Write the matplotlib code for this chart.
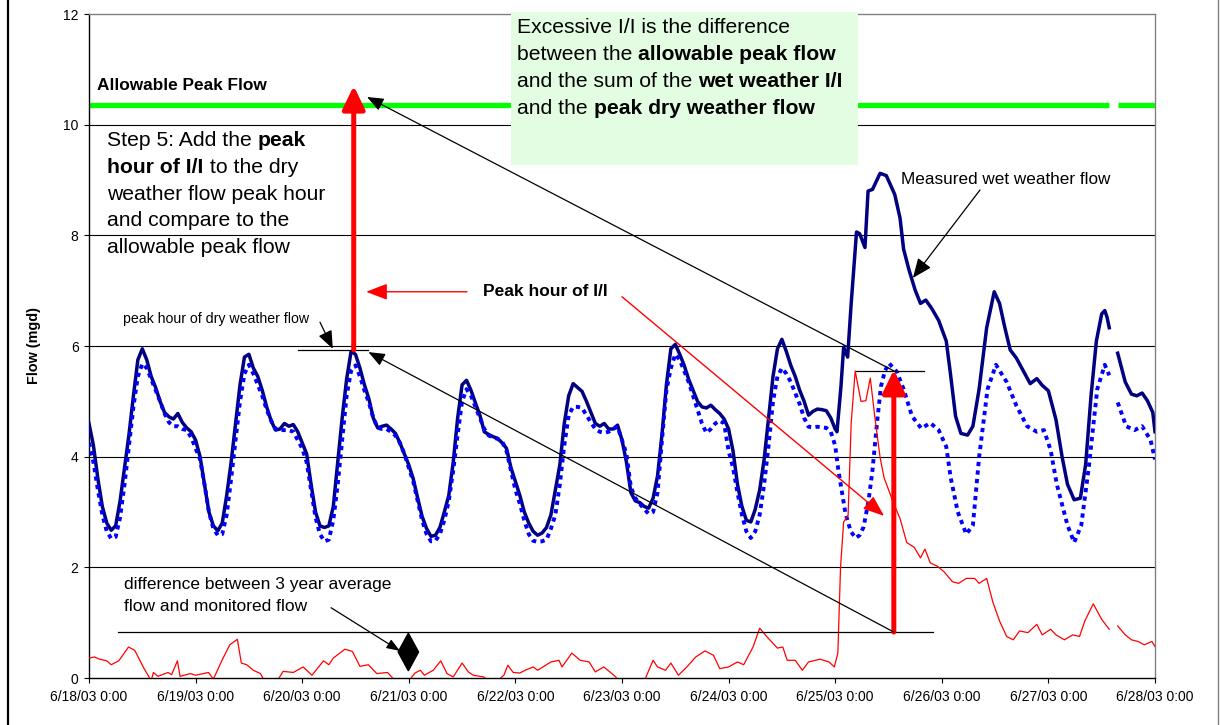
import matplotlib
matplotlib.use('Agg')
import matplotlib.pyplot as plt
import numpy as np
from matplotlib.transforms import offset_copy
from matplotlib.patches import Rectangle, Polygon
from matplotlib.lines import Line2D

plt.rcParams['font.family'] = ['Liberation Sans', 'DejaVu Sans']

# hours since 6/18/03 0:00
tick_labels = ['6/18/03 0:00', '6/19/03 0:00', '6/20/03 0:00', '6/21/03 0:00',
               '6/22/03 0:00', '6/23/03 0:00', '6/24/03 0:00', '6/25/03 0:00',
               '6/26/03 0:00', '6/27/03 0:00', '6/28/03 0:00']

ALLOWABLE_PEAK = 10.35

# measured wet weather flow (mgd), hourly for 6/18-6/24, then read points
wet_hours = list(range(168)) + [
    168, 168.4, 169.3, 169.9, 170.8, 171.6, 172.8, 173.5, 174.7, 175.4, 176.4,
    178.1, 179.5, 181.4, 182.6, 183.4, 184.6, 186, 187.2, 188.4, 189.8, 191.3,
    193, 193.9, 195.1, 196.3, 197.8, 199, 200.4, 202.1, 203.8, 205, 206.2,
    207.4, 208.8, 210.5, 211.9, 213.4, 214.6, 216, 217.7, 219.1, 220.3, 221.8,
    223.2, 224.4, 225.6, 226.8, 228, 228.7, 229.2, 229.7, 230.6, 231.6, 233.3,
    234.7, 235.9, 237.1, 238.3, 239.5, 240]
wet_flow = [
    4.6, 4.2, 3.6, 3.1, 2.8, 2.67, 2.75, 3.2, 3.8, 4.4, 5.1, 5.75, 5.95, 5.75, 5.45, 5.25, 5.0, 4.8, 4.72, 4.68, 4.78, 4.62, 4.52, 4.45,
    4.3, 4.0, 3.5, 3.0, 2.75, 2.66, 2.8, 3.3, 3.9, 4.6, 5.3, 5.8, 5.85, 5.6, 5.45, 5.2, 4.9, 4.65, 4.48, 4.5, 4.6, 4.55, 4.58, 4.45,
    4.25, 4.05, 3.5, 3.0, 2.75, 2.72, 2.75, 3.1, 3.9, 4.7, 5.4, 5.9, 5.85, 5.6, 5.3, 5.05, 4.7, 4.52, 4.55, 4.57, 4.5, 4.42, 4.25, 4.05,
    3.85, 3.6, 3.25, 2.92, 2.7, 2.56, 2.58, 2.72, 3.0, 3.3, 3.9, 4.7, 5.3, 5.38, 5.2, 4.97, 4.75, 4.45, 4.4, 4.36, 4.33, 4.25, 4.15, 3.8,
    3.55, 3.3, 3.0, 2.8, 2.65, 2.58, 2.62, 2.72, 2.95, 3.4, 3.85, 4.6, 5.1, 5.32, 5.25, 5.18, 5.0, 4.8, 4.6, 4.55, 4.6, 4.5, 4.5, 4.57,
    4.3, 3.9, 3.35, 3.2, 3.17, 3.1, 3.07, 3.25, 3.65, 4.4, 5.3, 5.95, 6.03, 5.85, 5.65, 5.4, 5.2, 5.0, 4.9, 4.88, 4.93, 4.85, 4.78, 4.68,
    4.5, 4.1, 3.5, 3.1, 2.85, 2.82, 3.05, 3.4, 3.95, 4.7, 5.45, 5.95, 6.12, 5.9, 5.65, 5.45, 5.2, 5.0, 4.75, 4.82, 4.86, 4.85, 4.83, 4.7,
    4.5, 4.45, 5.27, 5.98, 5.8, 6.77, 8.06, 8.03, 7.78, 8.8, 8.83,
    9.12, 9.08, 8.74, 8.31, 7.75, 7.38, 7.01, 6.77, 6.83, 6.67, 6.46,
    6.09, 5.53, 4.73, 4.42, 4.39, 4.55, 5.22, 6.33, 6.98, 6.77, 6.33,
    5.93, 5.78, 5.53, 5.32, 5.41, 5.29, 5.19, 4.67, 3.99, 3.5, 3.22,
    3.25, 3.87, 5.1, 6.09, 6.58, 6.64, 6.52, 6.33, np.nan, 5.87, 5.35,
    5.13, 5.1, 5.15, 5.01, 4.8, 4.45]

# 3 year average dry weather flow (mgd)
dry_hours = list(range(168)) + [
    168, 168.7, 170.3, 171.5, 172.6, 173.5, 174.4, 175.5, 176.4, 177.4, 178.3,
    179.2, 180.1, 181.9, 183.4, 185.3, 187.4, 189.4, 191.3, 193, 194, 195.6,
    197.5, 199, 200.4, 202.3, 204.2, 206.6, 208.8, 211.2, 213.4, 215, 216.5,
    217.9, 220.3, 221.8, 223.4, 225.1, 227, 228.7, 229.7, 230.6, 231.6, 233.5,
    235.4, 237.1, 239, 240]
dry_flow = [
    4.25, 3.9, 3.4, 2.95, 2.65, 2.52, 2.55, 2.9, 3.5, 4.2, 4.9, 5.45, 5.68, 5.6, 5.4, 5.2, 5.0, 4.78, 4.62, 4.55, 4.55, 4.5, 4.48, 4.35,
    4.15, 3.95, 3.5, 3.0, 2.7, 2.58, 2.6, 2.95, 3.6, 4.3, 5.0, 5.5, 5.66, 5.5, 5.3, 5.1, 4.85, 4.65, 4.5, 4.48, 4.48, 4.48, 4.45, 4.3,
    4.15, 3.9, 3.4, 2.9, 2.6, 2.47, 2.5, 2.85, 3.5, 4.3, 5.1, 5.55, 5.65, 5.45, 5.2, 4.98, 4.7, 4.52, 4.5, 4.5, 4.45, 4.38, 4.25, 4.05,
    3.8, 3.55, 3.2, 2.85, 2.6, 2.47, 2.48, 2.6, 2.85, 3.2, 3.75, 4.4, 5.0, 5.22, 5.1, 4.9, 4.7, 4.5, 4.38, 4.35, 4.32, 4.28, 4.1, 3.75,
    3.4, 3.15, 2.85, 2.6, 2.48, 2.46, 2.47, 2.5, 2.7, 2.95, 3.5, 4.2, 4.75, 4.9, 4.9, 4.88, 4.75, 4.62, 4.5, 4.45, 4.43, 4.45, 4.5, 4.54,
    4.3, 4.05, 3.45, 3.25, 3.15, 3.05, 2.97, 3.0, 3.35, 4.3, 5.2, 5.6, 5.85, 5.75, 5.55, 5.35, 5.1, 4.85, 4.6, 4.43, 4.5, 4.6, 4.65, 4.6,
    4.1, 3.8, 3.35, 2.95, 2.65, 2.53, 2.65, 2.95, 3.5, 4.2, 5.0, 5.45, 5.6, 5.5, 5.35, 5.15, 4.95, 4.7, 4.54, 4.53, 4.54, 4.53, 4.52, 4.45,
    4.2, 3.76, 2.98, 2.65, 2.53, 2.58, 2.73, 3.2, 3.76, 4.6, 5.27,
    5.55, 5.69, 5.53, 5.22, 4.73, 4.51, 4.61, 4.48, 4.18, 3.62, 3.0,
    2.6, 2.76, 3.99, 5.22, 5.66, 5.35, 4.92, 4.55, 4.45, 4.48, 4.12,
    3.5, 2.76, 2.45, 2.76, 3.81, 5.22, 5.66, 5.47, np.nan, 4.98, 4.55,
    4.48, 4.55, 4.3, 3.95]

# difference between 3 year average and monitored flow (mgd)
diff_hours = [
    0, 1.2, 2.4, 4, 5, 6.7, 8.9, 10.3, 12.2, 14, 14.5, 15.5, 17.8, 18.6, 19.9,
    20.5, 22.8, 24, 26.9, 28, 30, 31.7, 33.4, 34.3, 35.5, 37, 38.6, 39.5, 42,
    43.7, 46, 48.2, 50.2, 52.8, 54, 55, 57.6, 59.3, 61, 62.9, 64.8, 67.2, 68.6,
    70, 72, 73.4, 74.6, 75.5, 77.5, 79.2, 80.6, 82, 84, 85.4, 86.5, 88.8, 90,
    92, 93.4, 94.3, 95.5, 97, 98.2, 100, 101, 104, 105.8, 106.5, 108.7, 110.6,
    112.6, 114, 115.9, 116.8, 118.6, 119.5, 124, 125.3, 127, 128, 129.8, 131,
    132.7, 134.6, 136.6, 138.7, 140.6, 142, 144, 146, 147.4, 149.5, 151, 152.9,
    155, 156.2, 157.2, 159, 160.6, 162, 164.6, 166.6, 167.8, 168.6, 169.2,
    169.9, 170.9, 171.6, 172.5, 173.8, 174.9, 175.9, 176.9, 178.1, 179, 181,
    182.6, 184.1, 185.8, 187.2, 188.2, 189.4, 191, 192.5, 194.4, 195.8, 197.5,
    199.4, 200.4, 202.1, 203.5, 205, 206.6, 208.1, 209.5, 211.4, 213.4, 214.6,
    216.5, 217.7, 219.6, 221.5, 223, 224.2, 226.1, 228, 229.7, 230.6, 231.6,
    233.3, 234.7, 236.2, 237.6, 239.3, 240]
diff_flow = [
    0.36, 0.38, 0.34, 0.31, 0.24, 0.31, 0.56, 0.5, 0.2, -0.05, 0.1, 0.03, 0.1, 0.06, 0.31,
    0.03, 0.08, 0.05, 0.1, -0.02, 0.33, 0.6, 0.7, 0.27, 0.24, 0.14, 0.08, -0.05, -0.1,
    0.12, 0.1, 0.2, 0.05, 0.31, 0.24, 0.36, 0.52, 0.48, 0.21, 0.24, 0.08, 0.1, -0.02,
    -0.1, -0.05, 0.09, 0.14, 0.05, 0.14, 0.31, 0.08, 0.02, 0.27, 0.11, 0.05, 0.02, -0.05,
    -0.05, 0.05, 0.23, 0.1, 0.09, 0.14, 0.2, 0.14, 0.29, 0.32, 0.2, 0.45, 0.32,
    0.29, 0.11, 0.2, 0.14, 0.02, -0.1, -0.1, 0.0, 0.32, 0.2, 0.14, 0.27,
    0.05, 0.2, 0.38, 0.49, 0.41, 0.17, 0.2, 0.29, 0.24, 0.56, 0.9, 0.72,
    0.54, 0.56, 0.32, 0.32, 0.14, 0.29, 0.34, 0.29, 0.2, 0.45, 2.0,
    2.82, 2.94, 4.61, 5.55, 5.0, 5.01, 5.42, 4.73, 3.99, 3.62, 3.19,
    2.88, 2.45, 2.36, 2.17, 2.33, 2.08, 2.02, 1.92, 1.74, 1.71, 1.8,
    1.8, 1.71, 1.8, 1.37, 1.03, 0.75, 0.69, 0.85, 0.82, 0.97, 0.78,
    0.88, 0.78, 0.69, 0.78, 0.75, 1.03, 1.34, 1.06, 0.88, np.nan, 0.94,
    0.78, 0.69, 0.66, 0.6, 0.66, 0.57]

W, H = 1220, 725
fig = plt.figure(figsize=(W / 100, H / 100), dpi=100)
ax = fig.add_axes([89 / W, 1 - 678 / H, 1066 / W, 664 / H])

wet = np.array(wet_flow, dtype=float)
allow = np.where(np.isnan(wet), np.nan, ALLOWABLE_PEAK)

yticks = list(range(0, 13, 2))
for yv in yticks[1:-1]:
    ax.axhline(yv, color='black', lw=0.8, zorder=0.5)

ax.plot(wet_hours, allow, color='#00FF00', lw=3.8, solid_capstyle='butt', zorder=2)
ax.plot(wet_hours, wet, color='#000080', lw=2.5, solid_joinstyle='round', zorder=3)
ax.plot(dry_hours, dry_flow, color='#0000FF', lw=2.8, linestyle=(0, (1.1, 1.1)),
        dash_capstyle='butt', zorder=3.5)
ax.plot(diff_hours, diff_flow, color='#FF0000', lw=0.9, zorder=4)

ax.set_xlim(0, 240)
ax.set_ylim(0, 12)
ax.set_xticks(range(0, 241, 24))
ax.set_xticklabels(tick_labels)
ax.set_yticks(yticks)
ax.tick_params(direction='out', length=3.5, width=0.8, labelsize=10, pad=4)
ax.tick_params(axis='x', pad=5)
for s in ['left', 'bottom']:
    ax.spines[s].set_color('black')
    ax.spines[s].set_linewidth(1)
for s in ['top', 'right']:
    ax.spines[s].set_color('#808080')
    ax.spines[s].set_linewidth(1)
ax.set_ylabel('Flow (mgd)', fontsize=10.4, fontweight='bold')
ax.yaxis.set_label_coords(-0.045, 0.5)

# outer frame
fig.add_artist(Line2D([8 / W, 8 / W], [0, 1], color='black', lw=1.6, transform=fig.transFigure))
fig.add_artist(Line2D([1218 / W, 1218 / W], [0, 1], color='#808080', lw=1, transform=fig.transFigure))

renderer = fig.canvas.get_renderer()


def text_w(s, size, weight):
    t = fig.text(0, 0, s, fontsize=size, fontweight=weight)
    w = t.get_window_extent(renderer).width
    t.remove()
    return w


def part_w(s, size, weight):
    return text_w('|' + s + '|', size, weight) - text_w('||', size, weight)


def rich_text(x, y, lines, size, line_px, zorder=7):
    for i, parts in enumerate(lines):
        dx = 0.0
        for s, weight in parts:
            tr = offset_copy(ax.transData, fig=fig, x=dx, y=-i * line_px, units='dots')
            ax.text(x, y, s, transform=tr, fontsize=size, fontweight=weight,
                    va='baseline', ha='left', zorder=zorder, clip_on=False)
            dx += part_w(s, size, weight)


def arrow(tail, tip, color='black', lw=0.9, hl=0.5, hw=0.2, ms=20, style='-|>'):
    ax.annotate('', xy=tip, xytext=tail,
                arrowprops=dict(arrowstyle=f'{style},head_length={hl},head_width={hw}',
                                mutation_scale=ms, lw=lw, color=color,
                                shrinkA=0, shrinkB=0), zorder=6)


# green note box
ax.add_patch(Rectangle((95.0, 9.27), 78.1, 2.77, facecolor='#E2FDE2', edgecolor='none',
                       zorder=5, clip_on=False))
rich_text(96.4, 11.66, [
    [('Excessive I/I is the difference', 'normal')],
    [('between the ', 'normal'), ('allowable peak flow', 'bold')],
    [('and the sum of the ', 'normal'), ('wet weather I/I', 'bold')],
    [('and the ', 'normal'), ('peak dry weather flow', 'bold')],
], 15.2, 27.2)

rich_text(4.12, 9.61, [
    [('Step 5: Add the ', 'normal'), ('peak', 'bold')],
    [('hour of I/I', 'bold'), (' to the dry', 'normal')],
    [('weather flow peak hour', 'normal')],
    [('and compare to the', 'normal')],
    [('allowable peak flow', 'normal')],
], 15.2, 26.7)

ax.text(1.8, 10.63, 'Allowable Peak Flow', fontsize=12.4, fontweight='bold', va='baseline', zorder=7)
ax.text(88.7, 6.9, 'Peak hour of I/I', fontsize=12.5, fontweight='bold', va='baseline', zorder=7)
ax.text(182.8, 8.93, 'Measured wet weather flow', fontsize=12.3, va='baseline', zorder=7)
ax.text(7.72, 6.42, 'peak hour of dry weather flow', fontsize=10.2, va='baseline', zorder=7)
rich_text(7.88, 1.61, [[('difference between 3 year average', 'normal')],
                       [('flow and monitored flow', 'normal')]], 12.5, 22)

# reference lines
ax.plot([47.1, 62.9], [5.93, 5.93], color='black', lw=0.9, zorder=6)
ax.plot([172.6, 187.9], [5.55, 5.55], color='black', lw=0.9, zorder=6)
ax.plot([6.5, 190.0], [0.83, 0.83], color='black', lw=0.9, zorder=6)

# thick red arrows
arrow((59.6, 5.93), (59.6, 10.7), color='red', lw=3.6, hl=0.7, hw=0.34)
arrow((181.2, 0.83), (181.2, 5.57), color='red', lw=3.6, hl=0.7, hw=0.34)

# thin black arrows
arrow((181.2, 5.55), (62.6, 10.5))
arrow((181.2, 0.83), (62.9, 5.89))
arrow((52.0, 6.43), (54.9, 5.95), hl=0.55, hw=0.22)
arrow((200.6, 8.82), (185.5, 7.23), hl=0.6, hw=0.25)
arrow((54.5, 1.27), (70.0, 0.49), hl=0.4, hw=0.15)

# thin red arrows
arrow((85.1, 6.98), (62.4, 6.98), color='red', lw=1.0, hl=0.65, hw=0.25)
arrow((120.0, 6.89), (179.0, 2.93), color='red', lw=1.0, hl=0.65, hw=0.25)

# diamond marker between monitored and average flow
ax.add_patch(Polygon([(69.6, 0.47), (71.9, 0.81), (74.2, 0.47), (71.9, 0.13)],
                     closed=True, facecolor='black', edgecolor='black', zorder=6))

fig.savefig('out.png', dpi=100)
